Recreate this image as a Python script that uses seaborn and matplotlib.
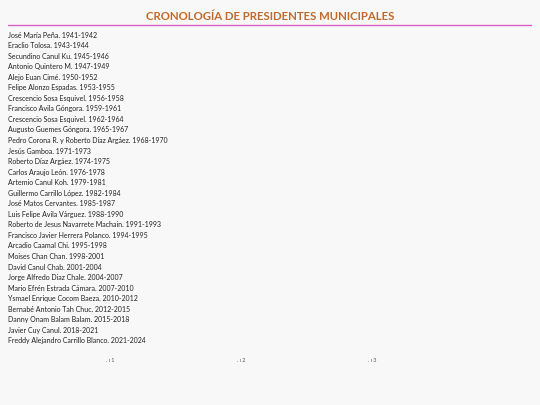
import matplotlib
matplotlib.use("Agg")
import matplotlib.pyplot as plt
import seaborn as sns

sns.set_theme(style="white")
plt.rcParams['font.family'] = ['Lato', 'DejaVu Sans']

title = "CRONOLOGÍA DE PRESIDENTES MUNICIPALES"
names = ["José María Peña", "Eraclio Tolosa", "Secundino Canul Ku", "Antonio Quintero M",
         "Alejo Euan Cimé", "Felipe Alonzo Espadas", "Crescencio Sosa Esquivel",
         "Francisco Avila Góngora", "Crescencio Sosa Esquivel", "Augusto Guemes Góngora",
         "Pedro Corona R. y Roberto Díaz Argáez", "Jesús Gamboa", "Roberto Díaz Argáez",
         "Carlos Araujo León", "Artemio Canul Koh", "Guillermo Carrillo López",
         "José Matos Cervantes", "Luis Felipe Avila Várguez", "Roberto de Jesus Navarrete Machain",
         "Francisco Javier Herrera Polanco", "Arcadio Caamal Chi", "Moises Chan Chan",
         "David Canul Chab", "Jorge Alfredo Diaz Chale", "Mario Efrén Estrada Cámara",
         "Ysmael Enrique Cocom Baeza", "Bernabé Antonio Tah Chuc", "Danny Onam Balam Balam",
         "Javier Cuy Canul", "Freddy Alejandro Carrillo Blanco"]
periods = ["1941-1942", "1943-1944", "1945-1946", "1947-1949", "1950-1952", "1953-1955",
           "1956-1958", "1959-1961", "1962-1964", "1965-1967", "1968-1970", "1971-1973",
           "1974-1975", "1976-1978", "1979-1981", "1982-1984", "1985-1987", "1988-1990",
           "1991-1993", "1994-1995", "1995-1998", "1998-2001", "2001-2004", "2004-2007",
           "2007-2010", "2010-2012", "2012-2015", "2015-2018", "2018-2021", "2021-2024"]
page_marks = ["1", "2", "3"]

W, H = 540, 405
fig = plt.figure(figsize=(5.4, 4.05), dpi=100)
fig.patch.set_facecolor("#f8f8f8")
ax = fig.add_axes([0, 0, 1, 1])
ax.set_xlim(0, W); ax.set_ylim(H, 0); ax.axis("off")

ax.text(270, 16, title, ha="center", va="center", fontsize=8.2, fontweight="bold", color="#c0692a")
ax.plot([8, 531], [25, 25], color="#d65fc8", lw=1)
for i, (n, p) in enumerate(zip(names, periods)):
    ax.text(8, 35 + i * 10.55, f"{n}. {p}", ha="left", va="center", fontsize=5, color="#222222")
for i, m in enumerate(page_marks):
    ax.text(110 + i * 131, 361, ". ı " + m, ha="center", va="center", fontsize=4, color="#555555")

fig.savefig("out.png", dpi=100, facecolor=fig.get_facecolor())
